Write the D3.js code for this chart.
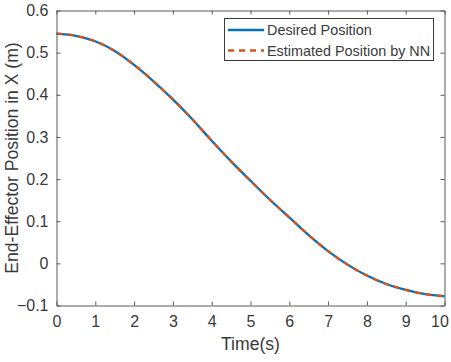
<!DOCTYPE html>
<html><head><meta charset="utf-8">
<script src="https://cdn.jsdelivr.net/npm/d3@7"></script>
<style>
html,body{margin:0;padding:0;background:#fff;}
svg text{font-family:"Liberation Sans",Arial,sans-serif;fill:#3a3a3a;}
</style></head>
<body><svg id="c" width="451" height="362"></svg>
<script>
const timeS = [0,0.5,1,1.5,2,2.5,3,3.5,4,4.5,5,5.5,6,6.5,7,7.5,8,8.5,9,9.5,10];
const desiredX = [0.545,0.540,0.527,0.504,0.471,0.432,0.389,0.342,0.291,0.242,0.196,0.151,0.109,0.067,0.029,-0.003,-0.029,-0.049,-0.063,-0.073,-0.078];
const estimatedX = [0.545,0.540,0.527,0.504,0.471,0.432,0.389,0.342,0.291,0.242,0.196,0.151,0.109,0.067,0.029,-0.003,-0.029,-0.049,-0.063,-0.073,-0.078];
const xTicks = [0,1,2,3,4,5,6,7,8,9,10];
const yTicks = [-0.1,0,0.1,0.2,0.3,0.4,0.5,0.6];
const seriesNames = ["Desired Position","Estimated Position by NN"];
const xLabel = "Time(s)";
const yLabel = "End-Effector Position in X (m)";

const svg = d3.select("#c");
const L=56.5, R=444.5, T=10.5, B=305.5;
const x = d3.scaleLinear().domain([0,10]).range([L,R]);
const y = d3.scaleLinear().domain([-0.1,0.6]).range([B,T]);
const axisCol = "#5a5a5a";

const line = d3.line().x((d,i)=>x(timeS[i])).y(d=>y(d)).curve(d3.curveMonotoneX);

svg.append("path").attr("d", line(desiredX)).attr("fill","none")
  .attr("stroke","#0072BD").attr("stroke-width",2.3);
svg.append("path").attr("d", line(estimatedX)).attr("fill","none")
  .attr("stroke","#D95319").attr("stroke-width",2.3).attr("stroke-dasharray","6,5");

// axes
const gx = svg.append("g").attr("transform",`translate(0,${B})`)
  .call(d3.axisBottom(x).tickValues(xTicks).tickSizeInner(-4).tickSizeOuter(0).tickPadding(10).tickFormat(d3.format("d")));
const gy = svg.append("g").attr("transform",`translate(${L},0)`)
  .call(d3.axisLeft(y).tickValues(yTicks).tickSizeInner(-4).tickSizeOuter(0).tickPadding(8).tickFormat(d=>d===0?"0":d3.format(".1f")(d)));
const gt = svg.append("g").attr("transform",`translate(0,${T})`)
  .call(d3.axisTop(x).tickValues(xTicks).tickSizeInner(-4).tickSizeOuter(0).tickFormat(""));
const gr = svg.append("g").attr("transform",`translate(${R},0)`)
  .call(d3.axisRight(y).tickValues(yTicks).tickSizeInner(-4).tickSizeOuter(0).tickFormat(""));
[gx,gy,gt,gr].forEach(g=>{
  g.selectAll("path.domain").attr("stroke",axisCol).attr("stroke-width",1);
  g.selectAll(".tick line").attr("stroke",axisCol);
  g.selectAll("text").attr("font-size",16).attr("fill","#3a3a3a").attr("font-family","Liberation Sans, Arial, sans-serif");
});
gx.selectAll("text").attr("dy","0.71em");
gx.selectAll(".tick").filter(d=>d===10).select("text").attr("dx",-5);

svg.append("text").attr("x",(L+R)/2).attr("y",350).attr("text-anchor","middle")
  .attr("font-size",17.6).text(xLabel);
svg.append("text").attr("transform",`translate(18,${(T+B)/2}) rotate(-90)`)
  .attr("text-anchor","middle").attr("font-size",17.6).text(yLabel);

// legend
const lg = svg.append("g");
lg.append("rect").attr("x",224.5).attr("y",18.5).attr("width",209).attr("height",42)
  .attr("fill","#fff").attr("stroke","#3a3a3a").attr("stroke-width",1);
const cols = ["#0072BD","#D95319"], dashes=[null,"6,5"], rowsY=[30,50.5];
seriesNames.forEach((n,i)=>{
  lg.append("line").attr("x1",228).attr("x2",264).attr("y1",rowsY[i]).attr("y2",rowsY[i])
    .attr("stroke",cols[i]).attr("stroke-width",2.3).attr("stroke-dasharray",dashes[i]);
  lg.append("text").attr("x",267).attr("y",rowsY[i]).attr("dy","0.35em")
    .attr("font-size",14.4).text(n);
});
</script></body></html>
